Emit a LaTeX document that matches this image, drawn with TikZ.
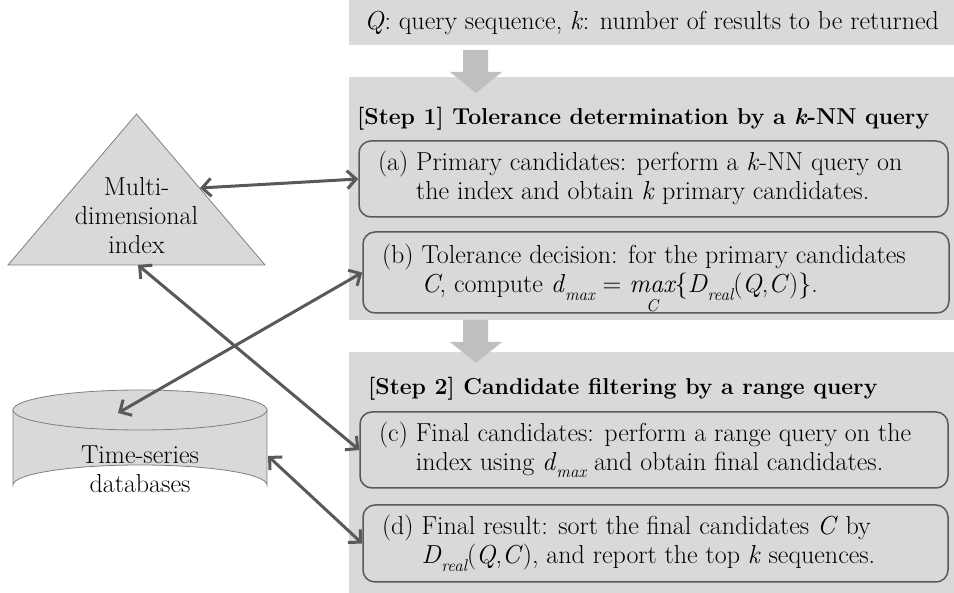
\documentclass[tikz,border=0pt]{standalone}
\usepackage{fontspec}
\usetikzlibrary{arrows.meta}
\definecolor{panel}{HTML}{D9D9D9}
\definecolor{flow}{HTML}{BFBFBF}
\definecolor{link}{HTML}{595959}
\definecolor{rim}{HTML}{7F7F7F}
% small italic index set below the baseline
\newcommand\lowidx[1]{\raisebox{-0.28em}{\fontsize{17}{17}\selectfont\itshape #1}}
% italic operator with its index underneath
\newcommand\opunder[2]{\smash{\begin{tabular}[t]{@{}c@{}}\itshape #1\\[-10pt]\fontsize{17}{17}\selectfont\itshape #2\end{tabular}}}
\begin{document}
\begin{tikzpicture}[x=1pt,y=-1pt,
  font=\fontsize{26}{29}\selectfont,
  panelbox/.style={fill=panel, draw=none, inner sep=0pt, anchor=north west},
  itembox/.style={draw=link, line width=1.5pt, rounded corners=12pt, fill=panel,
    inner xsep=19pt, inner ysep=0pt, minimum height=#1},
  itembox/.default=76pt,
  steptitle/.style={anchor=base west, inner sep=0pt, font=\fontsize{23}{29}\selectfont\bfseries},
  flowarrow/.style={fill=flow, draw=none},
  shapebody/.style={fill=panel, draw=rim, line width=0.8pt},
  duplex/.style={draw=link, line width=3pt,
    {Straight Barb[length=9pt,width=18pt,line width=3pt]}-{Straight Barb[length=9pt,width=18pt,line width=3pt]}}
]
\useasboundingbox (0,0) rectangle (954,593);

% grey panels
\node[panelbox, minimum width=605pt, minimum height=45pt] (query) at (349,0)
  {\textit{Q}: query sequence, \textit{k}: number of results to be returned};
\node[panelbox, minimum width=605pt, minimum height=243pt] (step1) at (349,77) {};
\node[panelbox, minimum width=605pt, minimum height=241pt] (step2) at (349,352) {};

% flow arrows between the panels
\fill[flowarrow] (463,50) -- (488,50) -- (488,72) -- (502,72) -- (476,93)
  -- (450,72) -- (463,72) -- cycle;
\fill[flowarrow] (463,320) -- (488,320) -- (488,342) -- (502,342) -- (476,363)
  -- (450,342) -- (463,342) -- cycle;

% step titles
\node[steptitle] (t1) at (357,125) {[Step 1] Tolerance determination by a \textit{k}-NN query};
\node[steptitle] (t2) at (368,395) {[Step 2] Candidate filtering by a range query};

% step items
\node[itembox] (a) at (653.5,179) {\makebox[551pt][l]{%
  \begin{tabular}{@{}l@{\ }l@{}}
  (a) & Primary candidates: perform a \textit{k}-NN query on\\
      & the index and obtain \textit{k} primary candidates.
  \end{tabular}}};
\node[itembox=81pt] (b) at (656,272.5) {\makebox[548pt][l]{%
  \begin{tabular}{@{}l@{\ }l@{}}
  (b) & Tolerance decision: for the primary candidates\\
      & \textit{C}, compute \textit{d}\lowidx{max} = \opunder{max}{C}\{\textit{D}\lowidx{real}(\textit{Q},\textit{C})\}.
  \end{tabular}}};
\node[itembox] (c) at (654,450) {\makebox[550pt][l]{%
  \begin{tabular}{@{}l@{\ }l@{}}
  (c) & Final candidates: perform a range query on the\\
      & index using \textit{d}\lowidx{max} and obtain final candidates.
  \end{tabular}}};
\node[itembox=77pt] (d) at (655.5,543.5) {\makebox[547pt][l]{%
  \begin{tabular}{@{}l@{\ }l@{}}
  (d) & Final result: sort the final candidates \textit{C} by\\
      & \textit{D}\lowidx{real}(\textit{Q},\textit{C}), and report the top \textit{k} sequences.
  \end{tabular}}};

% multi-dimensional index
\draw[shapebody] (8,265) -- (136.5,114) -- (265,265) -- cycle;
\node[align=center, inner sep=0pt] (index) at (136.5,215.5) {Multi-\\dimensional\\index};
\coordinate (triR) at (200,188);
\coordinate (triB) at (138,265);

% time-series databases
\draw[shapebody] (13,410) -- (13,485) arc[start angle=180, end angle=360, x radius=127, y radius=20]
  -- (267,410);
\draw[shapebody] (140,410) ellipse[x radius=127, y radius=20];
\node[align=center, inner sep=0pt] (db) at (140,469) {Time-series\\databases};
\coordinate (cylT) at (118,413);
\coordinate (cylR) at (268,456);

% data links
\draw[duplex] (triR) -- (a.west);
\draw[duplex] (cylT) -- (b.west);
\draw[duplex] (triB) -- (c.west);
\draw[duplex] (cylR) -- (d.west);
\end{tikzpicture}
\end{document}
